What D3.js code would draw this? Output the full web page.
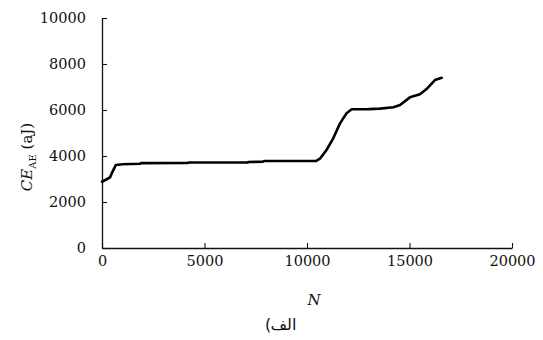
<!DOCTYPE html>
<html>
<head>
<meta charset="utf-8">
<script src="https://cdn.jsdelivr.net/npm/d3@7"></script>
<style>
  html, body { margin: 0; padding: 0; background: #fff; }
  svg { display: block; }
  text { fill: #111; }
</style>
</head>
<body>
<svg id="chart" width="543" height="340"></svg>
<script>
// Cumulative AE energy against cycle count
const cycles = [0, 230, 390, 550, 680, 1000, 1850, 1900, 4200, 4250, 7100, 7150, 7850, 7900,
  10450, 10650, 10950, 11280, 11610, 11930, 12180, 13000, 13560, 14210, 14540, 15020,
  15510, 15830, 16240, 16570];
const energy = [2880, 2990, 3070, 3390, 3610, 3640, 3660, 3690, 3700, 3720, 3720, 3740, 3750, 3780,
  3790, 3900, 4260, 4770, 5420, 5860, 6030, 6040, 6060, 6120, 6220, 6550,
  6680, 6910, 7300, 7400];
const xTicks = [0, 5000, 10000, 15000, 20000];
const yTicks = [0, 2000, 4000, 6000, 8000, 10000];

const margin = { left: 102, top: 18, width: 410, height: 230 };
const svg = d3.select("#chart");
const g = svg.append("g").attr("transform", `translate(${margin.left},${margin.top})`);

const x = d3.scaleLinear().domain([0, 20000]).range([0, margin.width]);
const y = d3.scaleLinear().domain([0, 10000]).range([margin.height, 0]);

const font = "'DejaVu Serif', 'Liberation Serif', serif";

// x axis: ticks point into the plot
const xAxis = g.append("g")
  .attr("transform", `translate(0,${margin.height})`)
  .call(d3.axisBottom(x).tickValues(xTicks).tickFormat(d3.format("d")).tickSizeInner(-5).tickSizeOuter(0).tickPadding(8));
xAxis.select(".domain").attr("stroke", "#111").attr("stroke-width", 1.3);
xAxis.selectAll(".tick line").attr("stroke", "#111").attr("stroke-width", 1.1);
xAxis.selectAll("text").attr("font-family", font).attr("font-size", 14.5).attr("fill", "#111");

const yAxis = g.append("g")
  .call(d3.axisLeft(y).tickValues(yTicks).tickFormat(d3.format("d")).tickSizeInner(-5).tickSizeOuter(0).tickPadding(16));
yAxis.select(".domain").attr("stroke", "#111").attr("stroke-width", 1.3);
yAxis.selectAll(".tick line").attr("stroke", "#111").attr("stroke-width", 1.1);
yAxis.selectAll("text").attr("font-family", font).attr("font-size", 14.5).attr("fill", "#111");

// data curve
const pts = cycles.map((c, i) => [c, energy[i]]);
g.append("path")
  .datum(pts)
  .attr("fill", "none")
  .attr("stroke", "#000")
  .attr("stroke-width", 2.6)
  .attr("stroke-linejoin", "round")
  .attr("stroke-linecap", "round")
  .attr("d", d3.line().x(d => x(d[0])).y(d => y(d[1])));

// axis titles
svg.append("text")
  .attr("x", 314).attr("y", 305)
  .attr("text-anchor", "middle")
  .attr("font-family", font).attr("font-style", "italic").attr("font-size", 15)
  .text("N");

const yl = svg.append("text")
  .attr("transform", "translate(32,157) rotate(-90)")
  .attr("text-anchor", "middle")
  .attr("font-family", font).attr("font-size", 15);
yl.append("tspan").attr("font-style", "italic").text("CE");
yl.append("tspan").attr("font-size", 10).attr("dy", 4).text("AE");
yl.append("tspan").attr("dy", -4).text(" (aJ)");

svg.append("text")
  .attr("x", 281).attr("y", 330)
  .attr("text-anchor", "middle")
  .attr("direction", "rtl")
  .attr("font-family", "'Noto Sans', 'DejaVu Sans', sans-serif").attr("font-size", 16)
  .text("الف)");
</script>
</body>
</html>
